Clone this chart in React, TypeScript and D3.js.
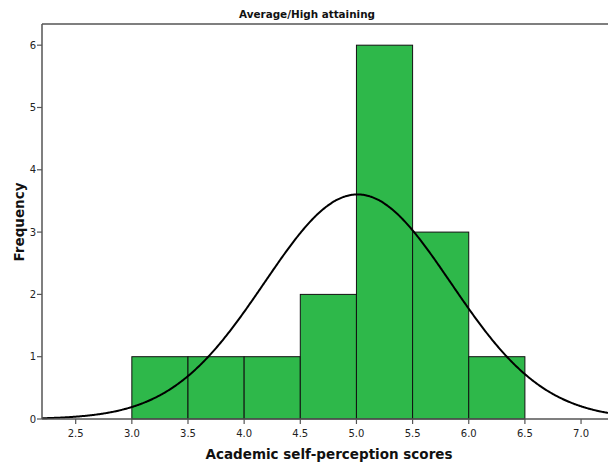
import React from "react";
import * as d3 from "d3";

const binStarts = [3.0, 3.5, 4.0, 4.5, 5.0, 5.5, 6.0];
const binWidth = 0.5;
const counts = [1, 1, 1, 2, 6, 3, 1];
const xTicks = [2.5, 3.0, 3.5, 4.0, 4.5, 5.0, 5.5, 6.0, 6.5, 7.0];
const yTicks = [0, 1, 2, 3, 4, 5, 6];
const meanVal = 5.01;
const sdVal = 0.83;
const nTotal = 15;

const W = 608, H = 467;
const L = 42, T = 24, R = 608, B = 419;

export default function App() {
  const x = d3.scaleLinear().domain([2.2, 7.24]).range([L, R]);
  const y = d3.scaleLinear().domain([0, 6.34]).range([B, T]);
  const pdf = (v: number) =>
    (nTotal * binWidth) / (sdVal * Math.sqrt(2 * Math.PI)) *
    Math.exp(-0.5 * ((v - meanVal) / sdVal) ** 2);
  const pts = d3.range(2.2, 7.25, 0.01).map((v) => [v, pdf(v)] as [number, number]);
  const line = d3.line<[number, number]>().x((d) => x(d[0])).y((d) => y(d[1])).curve(d3.curveBasis);
  const font = "DejaVu Sans, sans-serif";
  return (
    <svg width={W} height={H} style={{ position: "absolute", left: 0, top: 0 }} fontFamily={font}>
      <rect x={0} y={0} width={W} height={H} fill="#fff" />
      <text x={307} y={18} textAnchor="middle" fontSize={10.4} fontWeight="bold" fill="#111">Average/High attaining</text>
      {binStarts.map((s, i) => (
        <rect key={i} x={x(s)} y={y(counts[i])} width={x(s + binWidth) - x(s)} height={y(0) - y(counts[i])}
          fill="#2EB84A" stroke="#111" strokeWidth={1} />
      ))}
      <path d={line(pts) || ""} fill="none" stroke="#000" strokeWidth={2} />
      <line x1={L} y1={T} x2={R} y2={T} stroke="#555" strokeWidth={1.5} />
      <line x1={L} y1={T} x2={L} y2={B} stroke="#555" strokeWidth={1.5} />
      <line x1={L} y1={B} x2={R} y2={B} stroke="#555" strokeWidth={1.5} />
      {yTicks.map((t) => (
        <g key={t}>
          <line x1={L - 5} x2={L} y1={y(t)} y2={y(t)} stroke="#555" strokeWidth={1.2} />
          <text x={L - 6} y={y(t) + 3.5} textAnchor="end" fontSize={10} fill="#222">{t}</text>
        </g>
      ))}
      {xTicks.map((t) => (
        <g key={t}>
          <line x1={x(t)} x2={x(t)} y1={B} y2={B + 5} stroke="#555" strokeWidth={1.2} />
          <text x={x(t)} y={B + 18} textAnchor="middle" fontSize={10} fill="#222">{t.toFixed(1)}</text>
        </g>
      ))}
      <text x={329} y={459} textAnchor="middle" fontSize={13.5} fontWeight="bold" fill="#111">Academic self-perception scores</text>
      <text transform={`translate(24,${222}) rotate(-90)`} textAnchor="middle" fontSize={13.5} fontWeight="bold" fill="#111">Frequency</text>
    </svg>
  );
}
